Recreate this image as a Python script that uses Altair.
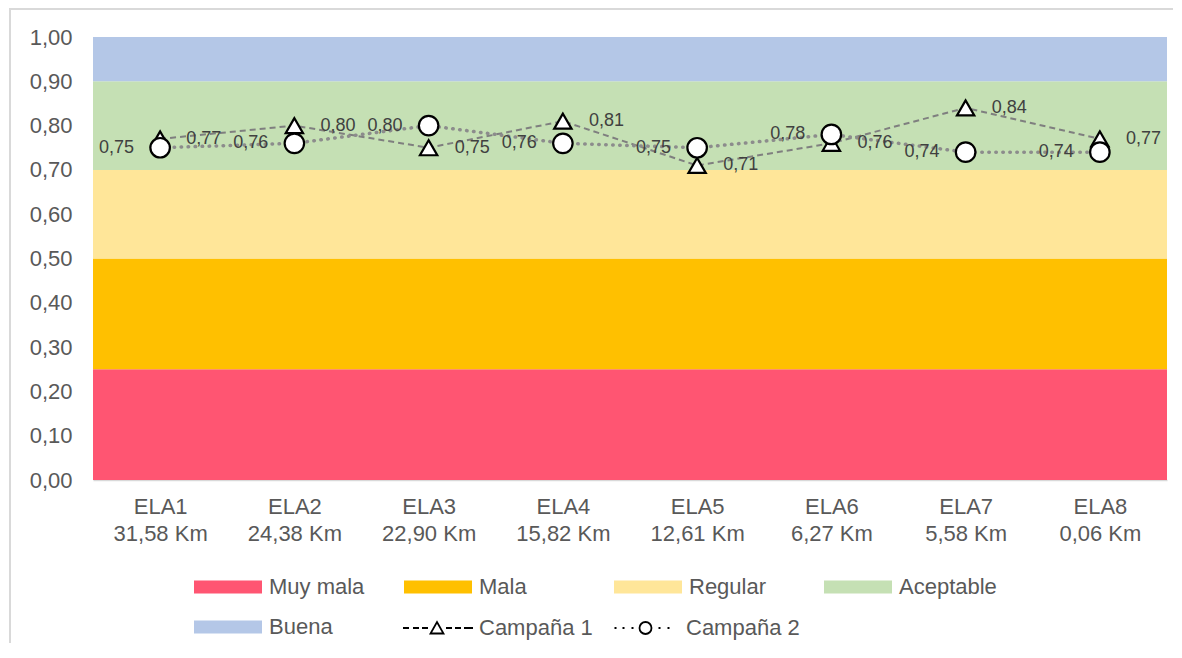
import altair as alt
import pandas as pd

# ---------------- data ----------------
ela = ["ELA1", "ELA2", "ELA3", "ELA4", "ELA5", "ELA6", "ELA7", "ELA8"]
km = ["31,58 Km", "24,38 Km", "22,90 Km", "15,82 Km", "12,61 Km", "6,27 Km", "5,58 Km", "0,06 Km"]
campana1 = [0.77, 0.80, 0.75, 0.81, 0.71, 0.76, 0.84, 0.77]
campana2 = [0.75, 0.76, 0.80, 0.76, 0.75, 0.78, 0.74, 0.74]
series = ["Campaña 1", "Campaña 2"]

band_names = ["Muy mala", "Mala", "Regular", "Aceptable", "Buena"]
band_lo = [0.00, 0.25, 0.50, 0.70, 0.90]
band_hi = [0.25, 0.50, 0.70, 0.90, 1.00]
band_colors = ["#FF5572", "#FFC000", "#FFE699", "#C5E0B4", "#B4C7E7"]

y_ticks = [0.0, 0.1, 0.2, 0.3, 0.4, 0.5, 0.6, 0.7, 0.8, 0.9, 1.0]

# ---------------- tables ----------------
cats = [f"{e}|{k}" for e, k in zip(ela, km)]
rows = []
for c, v in zip(cats, campana1):
    rows.append({"x": c, "s": series[0], "v": v})
for c, v in zip(cats, campana2):
    rows.append({"x": c, "s": series[1], "v": v})
df = pd.DataFrame(rows)
bands = pd.DataFrame({"cat": band_names, "lo": band_lo, "hi": band_hi})

W, H = 1074, 443
FONT = "Liberation Sans"
AXIS_COLOR = "#595959"
FS = 22

xenc = alt.X(
    "x:N",
    sort=cats,
    scale=alt.Scale(type="point", padding=0.5, domain=cats),
    axis=alt.Axis(
        title=None,
        labelExpr="split(datum.label, '|')",
        labelAngle=0,
        labelFontSize=FS,
        labelLineHeight=27,
        labelColor=AXIS_COLOR,
        labelPadding=16,
        ticks=False,
        domainColor="#d9d9d9",
        domainWidth=1.5,
        grid=False,
    ),
)
yscale = alt.Scale(domain=[0, 1], nice=False, zero=True)
yaxis = alt.Axis(
    title=None,
    values=y_ticks,
    labelExpr="replace(format(datum.value, '.2f'), '.', ',')",
    labelFontSize=FS,
    labelColor=AXIS_COLOR,
    labelPadding=21,
    ticks=False,
    domain=False,
    grid=False,
)
yenc = alt.Y("v:Q", scale=yscale, axis=yaxis)

rect_path = "M-1.1,-0.65H5.7V0.65H-1.1Z"
legend_bands = alt.Legend(
    title=None,
    orient="none",
    legendX=101,
    legendY=539,
    columns=4,
    direction="horizontal",
    gridAlign="all",
    columnPadding=37,
    rowPadding=18,
    symbolType=rect_path,
    symbolSize=400,
    symbolStrokeWidth=0,
    labelOffset=53,
    labelFontSize=FS,
    labelColor=AXIS_COLOR,
    labelLimit=300,
    padding=0,
)

band_layer = alt.Chart(bands).mark_rect().encode(
    y=alt.Y("lo:Q", scale=yscale, axis=yaxis),
    y2="hi:Q",
    color=alt.Color(
        "cat:N",
        sort=band_names,
        scale=alt.Scale(domain=band_names, range=band_colors),
        legend=legend_bands,
    ),
)

frame_src = pd.DataFrame({"d": [0]})
frame_left = alt.Chart(frame_src).mark_rule(color="#d9d9d9", strokeWidth=2).encode(
    x=alt.value(-83), y=alt.value(-28), y2=alt.value(606)
)
frame_top = alt.Chart(frame_src).mark_rule(color="#d9d9d9", strokeWidth=2).encode(
    x=alt.value(-84), x2=alt.value(W + 6), y=alt.value(-28)
)

base = alt.Chart(df).transform_calculate(
    lab="replace(format(datum.v, '.2f'), '.', ',')"
)
c1 = base.transform_filter(alt.datum.s == series[0])
c2 = base.transform_filter(alt.datum.s == series[1])

line1 = c1.mark_line(color="#7f7f7f", strokeWidth=2, strokeDash=[6, 4]).encode(x=xenc, y=yenc)
line2 = c2.mark_line(
    color="#8c8c8c", strokeWidth=3.5, strokeDash=[0.5, 6.5], strokeCap="round"
).encode(x=xenc, y=yenc)

tri = c1.mark_point(
    shape="triangle-up", filled=True, fill="white", stroke="black",
    strokeWidth=2.2, size=300, opacity=1
).encode(x=xenc, y=yenc)
circ = c2.mark_point(
    shape="circle", filled=True, fill="white", stroke="black",
    strokeWidth=2.2, size=380, opacity=1
).encode(x=xenc, y=yenc)

lab1 = c1.mark_text(
    align="left", baseline="middle", dx=26, fontSize=18, color="#404040", font=FONT
).encode(x=xenc, y=yenc, text="lab:N")
lab2 = c2.mark_text(
    align="right", baseline="middle", dx=-26, fontSize=18, color="#404040", font=FONT
).encode(x=xenc, y=yenc, text="lab:N")

# legend symbols for the two campaigns (line sample + marker)
p1 = ("M-1.1,0H-0.5M-0.1,0H0.5M0.8,0H1.4"
      "M1.65,0.55L2.95,0.55L2.3,-0.6Z"
      "M3.2,0H3.8M4.1,0H4.7M5.0,0H5.9")
p2 = ("M-0.65,0H-0.45M0.15,0H0.35M1.05,0H1.25"
      "M3.05,0A0.6,0.6,0,1,1,1.85,0A0.6,0.6,0,1,1,3.05,0Z"
      "M3.75,0H3.95M4.65,0H4.85")
legend_series = alt.Legend(
    title=None,
    orient="none",
    legendX=310,
    legendY=580,
    direction="horizontal",
    columns=2,
    gridAlign="all",
    columnPadding=17,
    symbolSize=400,
    symbolStrokeWidth=1.8,
    symbolStrokeColor="black",
    symbolOpacity=1,
    labelOffset=54,
    labelFontSize=FS,
    labelColor=AXIS_COLOR,
    labelLimit=300,
    padding=0,
)
legend_layer = alt.Chart(df).transform_filter("false").mark_point(
    filled=False, color="black", strokeWidth=1.8
).encode(
    shape=alt.Shape(
        "s:N", sort=series,
        scale=alt.Scale(domain=series, range=[p1, p2]),
        legend=legend_series,
    )
)

chart = alt.layer(
    band_layer, frame_left, frame_top, line1, line2, tri, circ, lab1, lab2, legend_layer
).properties(
    width=W, height=H, padding=0
).configure(
    font=FONT,
).configure_view(
    stroke=None
)

chart.save("out.html", embed_options={"renderer": "svg", "actions": False})
